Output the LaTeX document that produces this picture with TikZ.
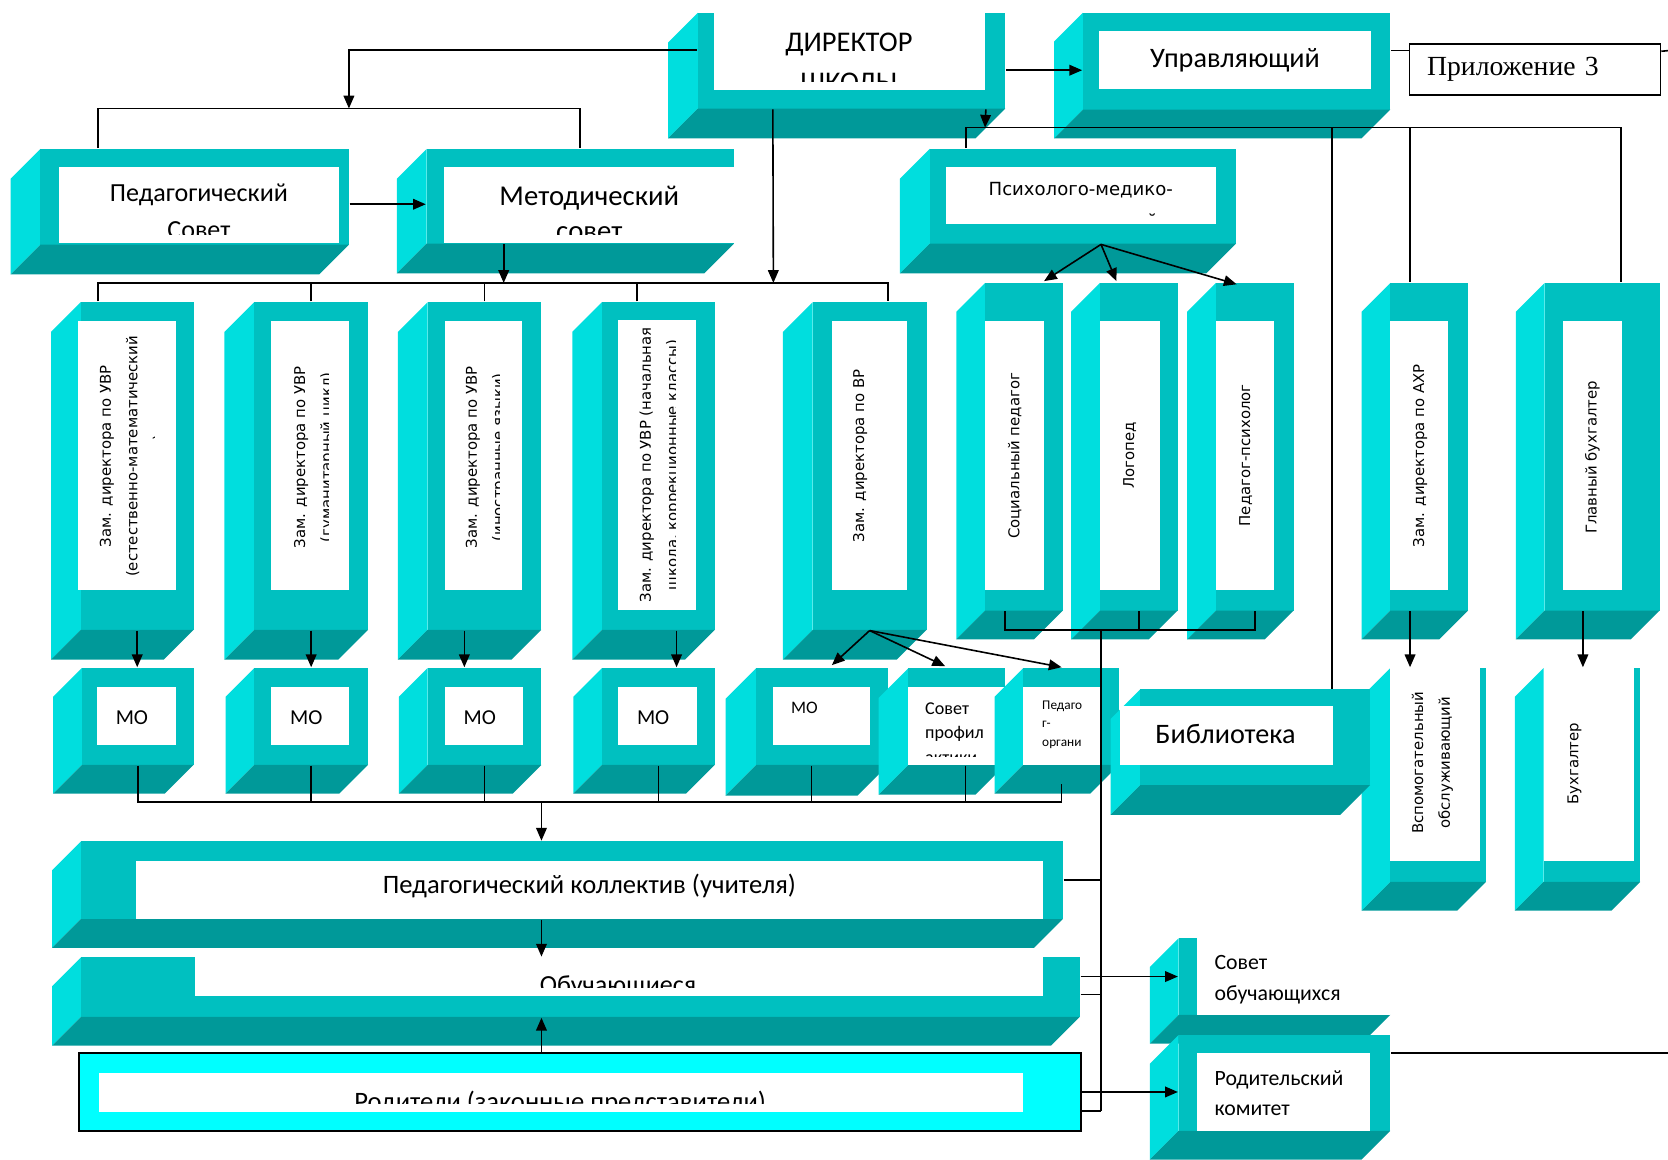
\documentclass[tikz,border=0pt]{standalone}
\usepackage{fontspec}
\setmainfont{Carlito}
\newfontfamily\vfont{DejaVu Sans}
\newfontfamily\tnr{Liberation Serif}
\usetikzlibrary{fit,arrows.meta}

\definecolor{tealside}{HTML}{00DEDE}
\definecolor{tealfront}{HTML}{00C0C0}
\definecolor{tealfloor}{HTML}{009999}
\definecolor{aqua}{HTML}{00FFFF}

% slab box: [depth]{name}{x left}{y top}{x right}{y bottom} of the front face
\newcommand{\tealbox}[6][27]{%
  \fill[tealside] (#3,#4) -- (#3,#6) -- ({#3-#1},{#6+#1}) -- ({#3-#1},{#4+#1}) -- cycle;
  \fill[tealfront] (#3,#4) rectangle (#5,#6);
  \fill[tealfloor] (#3,#6) -- (#5,#6) -- ({#5-#1},{#6+#1}) -- ({#3-#1},{#6+#1}) -- cycle;
  \node (#2) [fit={(#3,#4) (#5,#6)}, inner sep=0pt] {};
}

\begin{document}
\begin{tikzpicture}[x=1pt, y=-1pt, line width=1.5pt,
	panel/.style={fill=white},
	txt/.style={
		% plain text, no frame
		inner sep=0pt,
		align=center
		},
	vtxt/.style={
		% text turned up the side of the tall boxes
		inner sep=0pt,
		align=center,
		rotate=90,
		font=\vfont\fontsize{14}{25}\selectfont
		},
	arr/.style={-{Triangle[length=12pt,width=10pt]}}]

	\useasboundingbox (0,0) rectangle (1568,1089.6);

	% top row
	\tealbox[28]{dir}{656}{12}{945}{102}
	\fill[panel] (671,0) rectangle (926,85);
	\begin{scope}
		\clip (671,0) rectangle (926,77);
		\node (dirtxt) [txt, anchor=north, font=\fontsize{26.8}{37.7}\selectfont] at (798,29.8) {ДИРЕКТОР\\ШКОЛЫ};
	\end{scope}

	\tealbox[27]{upr}{1018}{12}{1307}{103}
	\fill[panel] (1033,29) rectangle (1289,84);
	\node (uprtxt) [txt, anchor=base, font=\fontsize{26.5}{30}\selectfont] at (1161,63.6) {Управляющий};

	\node (pril) [draw, line width=1.2pt, anchor=north west, minimum height=48pt, text width=203pt,
		inner xsep=16.5pt, inner ysep=0pt, align=left, font=\tnr\fontsize{26}{30}\selectfont] at (1324.5,40.7) {Приложение 3};

	% councils
	\tealbox[28]{pedsov}{38}{140}{328}{230}
	\fill[panel] (55,157) rectangle (319,228);
	\begin{scope}
		\clip (55,157) rectangle (319,220);
		\node (pedsovtxt) [txt, anchor=north, font=\fontsize{24.5}{35}\selectfont] at (187,172) {Педагогический\\Совет};
	\end{scope}

	\tealbox[28]{metod}{401}{140}{690}{229}
	\fill[panel] (417,157) rectangle (690,228);
	\begin{scope}
		\clip (417,157) rectangle (690,220);
		\node (metodtxt) [txt, anchor=north, font=\fontsize{27}{33.5}\selectfont] at (554,174) {Методический\\совет};
	\end{scope}

	\tealbox[28]{ppk}{874}{140}{1162}{229}
	\fill[panel] (889,157) rectangle (1143,211);
	\begin{scope}
		\clip (889,157) rectangle (1143,203);
		\node (ppktxt) [txt, anchor=north, font=\vfont\fontsize{17}{30}\selectfont] at (1016,171) {Психолого-медико-\\педагогический\\консилиум};
	\end{scope}

	% deputies
	\tealbox[28]{zamA}{76}{284}{182}{592}
	\fill[panel] (73,302) rectangle (165,555);
	\begin{scope}
		\clip (73,302) rectangle (145,555);
		\node (zamAtxt) [vtxt] at (125,429) {Зам. директора по УВР\\(естественно-математический\\цикл)};
	\end{scope}

	\tealbox[28]{zamB}{239}{284}{346}{592}
	\fill[panel] (255,302) rectangle (328,555);
	\begin{scope}
		\clip (255,302) rectangle (309,555);
		\node (zamBtxt) [vtxt] at (295.5,430) {Зам. директора по УВР\\(гуманитарный цикл)};
	\end{scope}

	\tealbox[28]{zamC}{402}{284}{509}{592}
	\fill[panel] (418,302) rectangle (491,555);
	\begin{scope}
		\clip (418,302) rectangle (469.5,555);
		\node (zamCtxt) [vtxt] at (457,430) {Зам. директора по УВР\\(иностранные языки)};
	\end{scope}

	\tealbox[28]{zamD}{566}{284}{672}{592}
	\fill[panel] (581,301) rectangle (654,573);
	\begin{scope}
		\clip (581,301) rectangle (635,573);
		\node (zamDtxt) [vtxt] at (620.5,437) {Зам. директора по УВР (начальная\\школа, коррекционные классы)};
	\end{scope}

	\tealbox[28]{zamE}{764}{284}{871}{592}
	\fill[panel] (782,302) rectangle (853,555);
	\node (zamEtxt) [vtxt] at (808.5,428.5) {Зам. директора по ВР};

	% specialists
	\tealbox{soc}{926}{266}{999}{574}
	\fill[panel] (926,302) rectangle (981,555);
	\node (soctxt) [vtxt] at (954,428.5) {Социальный педагог};

	\tealbox{logo}{1034}{266}{1107}{574}
	\fill[panel] (1034,302) rectangle (1090,555);
	\node (logotxt) [vtxt] at (1062,428) {Логопед};

	\tealbox{psy}{1143}{266}{1216}{574}
	\fill[panel] (1143,302) rectangle (1198,555);
	\node (psytxt) [vtxt] at (1171,428) {Педагог-психолог};

	\tealbox{akhr}{1307}{266}{1380}{574}
	\fill[panel] (1307,302) rectangle (1361,555);
	\node (akhrtxt) [vtxt] at (1335,428.5) {Зам. директора по АХР};

	\tealbox{glbuh}{1452}{266}{1560}{574}
	\fill[panel] (1469,302) rectangle (1525,555);
	\node (glbuhtxt) [vtxt] at (1497,430) {Главный бухгалтер};

	% MO row
	\tealbox{moA}{77}{628}{182}{719}
	\fill[panel] (91,646) rectangle (165,700);
	\node (moAtxt) [txt, anchor=base, font=\fontsize{20}{24}\selectfont] at (124,681.5) {МО};

	\tealbox{moB}{239}{628}{346}{719}
	\fill[panel] (255,646) rectangle (328,700);
	\node (moBtxt) [txt, anchor=base, font=\fontsize{20}{24}\selectfont] at (288,681.5) {МО};

	\tealbox{moC}{402}{628}{509}{719}
	\fill[panel] (418,646) rectangle (492,700);
	\node (moCtxt) [txt, anchor=base, font=\fontsize{20}{24}\selectfont] at (451,681.5) {МО};

	\tealbox{moD}{566}{628}{672}{719}
	\fill[panel] (581,646) rectangle (655,700);
	\node (moDtxt) [txt, anchor=base, font=\fontsize{20}{24}\selectfont] at (614,681.5) {МО};

	\tealbox[29]{moE}{711}{628}{835}{719}
	\fill[panel] (727,646) rectangle (818,700);
	\node (moEtxt) [txt, anchor=base west, font=\fontsize{16.5}{20}\selectfont] at (743,670.5) {МО};

	\tealbox[28]{sovprof}{854}{628}{945}{719}
	\fill[panel] (854,646) rectangle (945,719);
	\begin{scope}
		\clip (854,646) rectangle (945,711);
		\node (sovproftxt) [txt, align=left, anchor=north west, font=\fontsize{17}{23}\selectfont] at (869,659.6) {Совет\\профил\\актики};
	\end{scope}

	\tealbox{pedorg}{962}{628}{1052}{719}
	\fill[panel] (962,646) rectangle (1034,719);
	\begin{scope}
		\clip (962,646) rectangle (1034,708);
		\node (pedorgtxt) [txt, align=left, anchor=north west, font=\fontsize{12.5}{17.5}\selectfont] at (979,658) {Педаго\\г-\\органи\\затор};
	\end{scope}

	\tealbox{vspom}{1307}{628}{1397}{829}
	\fill[panel] (1307,628) rectangle (1391,809);
	\begin{scope}
		\clip (1307,628) rectangle (1372,809);
		\node (vspomtxt) [vtxt] at (1359,717) {Вспомогательный\\обслуживающий\\персонал};
	\end{scope}

	\tealbox[28]{bibl}{1072}{648}{1288}{738}
	\fill[panel] (1053,664) rectangle (1253,719);
	\node (bibltxt) [txt, anchor=base, font=\fontsize{26.5}{30}\selectfont] at (1152,698.5) {Библиотека};

	\tealbox{buh}{1451}{628}{1542}{829}
	\fill[panel] (1451,628) rectangle (1536,809);
	\node (buhtxt) [vtxt] at (1480,718) {Бухгалтер};

	% teachers, pupils, parents
	\tealbox{pedkol}{76}{791}{999}{864}
	\fill[panel] (128,809) rectangle (980,864);
	\node (pedkoltxt) [txt, anchor=base, font=\fontsize{25}{30}\selectfont] at (554,839.5) {Педагогический коллектив (учителя)};

	\tealbox{obuch}{76}{900}{1015}{956}
	\fill[panel] (183.5,900) rectangle (980,936);
	\begin{scope}
		\clip (183.5,900) rectangle (980,928);
		\node (obuchtxt) [txt, anchor=north, font=\fontsize{24.5}{30}\selectfont] at (581,916.6) {Обучающиеся};
	\end{scope}

	\node (rod) [draw, fill=aqua, line width=1.8pt, fit={(74,990) (1016,1063)}, inner sep=0pt] {};
	\fill[panel] (93,1009) rectangle (962,1045);
	\begin{scope}
		\clip (93,1009) rectangle (962,1037);
		\node (rodtxt) [txt, anchor=north, font=\fontsize{25}{30}\selectfont] at (526.5,1024.7) {Родители (законные представители)};
	\end{scope}

	\tealbox{sovob}{1108}{882}{1307}{954}
	\fill[panel] (1125,882) rectangle (1307,954);
	\node (sovobtxt) [txt, align=left, anchor=north west, font=\fontsize{20.5}{28.4}\selectfont] at (1141,897.7) {Совет\\обучающихся};

	\tealbox{rodkom}{1108}{973}{1307}{1063}
	\fill[panel] (1125,990) rectangle (1288,1063);
	\node (rodkomtxt) [txt, align=left, anchor=north west, font=\fontsize{20.5}{28}\selectfont] at (1141,1006) {Родительский\\комитет};

	% bus points
	\coordinate (pgedge) at (1568,47.6);
	\coordinate (sovbus) at (328,102);
	\coordinate (zambus) at (727,266);
	\coordinate (rbus) at (926,120);
	\coordinate (mobus) at (509,754);
	\coordinate (mbus) at (1035,592);
	\coordinate (rkedge) at (1568,990);

	% links from the director
	\draw[arr] ([yshift=-9pt]dir.east) -- ([yshift=-9pt]dir.east -| upr.west);
	\draw ([yshift=10pt]upr.east) -- ([yshift=10pt]upr.east -| pril.west);
	\draw ([yshift=17.1pt]pril.east) -- (pgedge);
	\draw[arr] ([yshift=10pt]dir.west) -| (sovbus);
	\draw ([xshift=-91pt]pedsov.north) |- (sovbus) -| (metod.north);
	\draw[arr] ([yshift=-7pt]pedsov.east) -- ([yshift=-7pt]pedsov.east -| metod.west);
	\draw[arr] ([xshift=-74pt]dir.south) -- (zambus);
	\draw[arr] ([xshift=-72pt]metod.south) -- ([xshift=-72pt]metod.south |- zambus);
	\draw ([xshift=-37pt]zamA.north) |- (zambus) -| ([xshift=17pt]zamE.north);
	\draw (zamB.north) -- (zamB.north |- zambus);
	\draw (zamC.north) -- (zamC.north |- zambus);
	\draw ([xshift=-20pt]zamD.north) -- ([xshift=-20pt]zamD.north |- zambus);
	\draw[arr] ([xshift=-19pt]dir.south east) -- (rbus);
	\draw ([xshift=-110pt]ppk.north) |- (rbus) -| ([xshift=18pt]glbuh.north);
	\draw ([xshift=72pt]bibl.north) -- ([xshift=72pt]bibl.north |- rbus);
	\draw ([xshift=-18pt]akhr.north) -- ([xshift=-18pt]akhr.north |- rbus);

	% fan out of the council
	\draw[arr] ([xshift=17pt]ppk.south) -- ([xshift=19pt,yshift=1pt]soc.north);
	\draw[arr] ([xshift=17pt]ppk.south) -- ([xshift=-21pt,yshift=1pt]logo.north);
	\draw[arr] ([xshift=17pt]ppk.south) -- ([xshift=-17pt,yshift=-2pt]psy.north);

	% deputies to the MO
	\draw[arr] (zamA.south) -- (zamA.south |- moA.north);
	\draw[arr] (zamB.south) -- (zamB.south |- moB.north);
	\draw[arr] ([xshift=-19pt]zamC.south) -- ([xshift=-19pt]zamC.south |- moC.north);
	\draw[arr] ([xshift=17pt]zamD.south) -- ([xshift=17pt]zamD.south |- moD.north);
	\draw[arr] (zamE.south) -- ([xshift=9pt,yshift=2pt]moE.north);
	\draw[arr] (zamE.south) -- ([xshift=-11pt,yshift=1pt]sovprof.north);
	\draw[arr] (zamE.south) -- ([xshift=-9pt]pedorg.north);
	\draw[arr] ([xshift=-18pt]akhr.south) -- ([xshift=-18pt]akhr.south |- vspom.north);
	\draw[arr] ([xshift=-18pt]glbuh.south) -- ([xshift=-18pt]glbuh.south |- buh.north);

	% MO bus down to the teachers
	\draw (moA.south) |- (mobus) -| ([xshift=-9pt,yshift=-17pt]pedorg.south);
	\draw (moB.south) -- (moB.south |- mobus);
	\draw (moC.south) -- (moC.south |- mobus);
	\draw (moD.south) -- (moD.south |- mobus);
	\draw ([xshift=-10pt]moE.south) -- ([xshift=-10pt]moE.south |- mobus);
	\draw ([xshift=8pt]sovprof.south) -- ([xshift=8pt]sovprof.south |- mobus);
	\draw[arr] (mobus) -- (mobus |- pedkol.north);
	\draw[arr] ([xshift=-28.5pt]pedkol.south) -- ([xshift=-28.5pt]pedkol.south |- obuch.north);
	\draw[arr] ([xshift=-36pt]rod.north) -- ([xshift=-36pt]rod.north |- obuch.south);

	% specialists bus on the right
	\draw ([xshift=-18pt]soc.south) |- (mbus) -| (psy.south);
	\draw (logo.south) -- (logo.south |- mbus);
	\draw (mbus) -- ([yshift=-18pt]rod.east -| mbus);
	\draw (pedkol.east) -- (pedkol.east -| mbus);
	\draw[arr] ([yshift=10pt]obuch.east) -- ([yshift=10pt]obuch.east -| sovob.west);
	\draw ([yshift=-7pt]obuch.east) -- ([yshift=-7pt]obuch.east -| mbus);
	\draw[arr] (rod.east) -- (rod.east -| rodkom.west);
	\draw ([yshift=-18pt]rod.east) -- ([yshift=-18pt]rod.east -| mbus);
	\draw ([yshift=28pt]rodkom.east) -- (rkedge);

\end{tikzpicture}
\end{document}
